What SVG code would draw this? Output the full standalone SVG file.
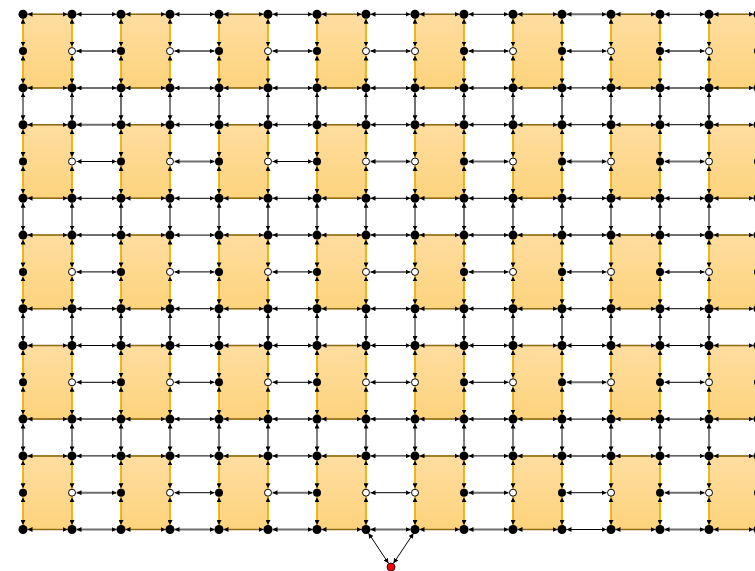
<svg xmlns="http://www.w3.org/2000/svg" width="755" height="571" viewBox="0 0 755 571">
<defs>
<linearGradient id="gr" x1="0" y1="0" x2="0" y2="1"><stop offset="0" stop-color="#fede a0"/><stop offset="0" stop-color="#fedda0"/><stop offset="1" stop-color="#fdd37c"/></linearGradient>
<marker id="a" viewBox="0 0 5 5" refX="5" refY="2.5" markerWidth="5" markerHeight="5" markerUnits="userSpaceOnUse" orient="auto-start-reverse"><path d="M0,0L5,2.5L0,5z" fill="#000"/></marker>
<line id="h" x1="0" y1="0" x2="40" y2="0" marker-start="url(#a)" marker-end="url(#a)"/>
<line id="v" x1="0" y1="0" x2="0" y2="27.8" marker-start="url(#a)" marker-end="url(#a)"/>
</defs>
<style>
.blk rect{fill:url(#gr);stroke:#c99a1c;stroke-width:1}
.k{stroke:#000;stroke-width:1}
.g{stroke:#707070;stroke-width:2}
.o{stroke:#f2b100;stroke-width:1.5}
.d{stroke:#8b6b14;stroke-width:1.5}
.nodes circle{fill:#000}
.nodes circle.w{fill:#fff;stroke:#000;stroke-width:1}
.nodes circle.red{fill:#f00;stroke:#000;stroke-width:0.8}
</style>
<g class="blk" id="blocks">
<g transform="translate(0,14.3)"><rect id="b0-0" x="23" width="49" height="73.6"/><rect id="b0-1" x="121" width="49" height="73.6"/><rect id="b0-2" x="219" width="49" height="73.6"/><rect id="b0-3" x="317" width="49" height="73.6"/><rect id="b0-4" x="415" width="49" height="73.6"/><rect id="b0-5" x="513" width="49" height="73.6"/><rect id="b0-6" x="611" width="49" height="73.6"/><rect id="b0-7" x="709" width="49" height="73.6"/></g>
<g transform="translate(0,124.7)"><rect id="b1-0" x="23" width="49" height="73.6"/><rect id="b1-1" x="121" width="49" height="73.6"/><rect id="b1-2" x="219" width="49" height="73.6"/><rect id="b1-3" x="317" width="49" height="73.6"/><rect id="b1-4" x="415" width="49" height="73.6"/><rect id="b1-5" x="513" width="49" height="73.6"/><rect id="b1-6" x="611" width="49" height="73.6"/><rect id="b1-7" x="709" width="49" height="73.6"/></g>
<g transform="translate(0,235.1)"><rect id="b2-0" x="23" width="49" height="73.6"/><rect id="b2-1" x="121" width="49" height="73.6"/><rect id="b2-2" x="219" width="49" height="73.6"/><rect id="b2-3" x="317" width="49" height="73.6"/><rect id="b2-4" x="415" width="49" height="73.6"/><rect id="b2-5" x="513" width="49" height="73.6"/><rect id="b2-6" x="611" width="49" height="73.6"/><rect id="b2-7" x="709" width="49" height="73.6"/></g>
<g transform="translate(0,345.5)"><rect id="b3-0" x="23" width="49" height="73.6"/><rect id="b3-1" x="121" width="49" height="73.6"/><rect id="b3-2" x="219" width="49" height="73.6"/><rect id="b3-3" x="317" width="49" height="73.6"/><rect id="b3-4" x="415" width="49" height="73.6"/><rect id="b3-5" x="513" width="49" height="73.6"/><rect id="b3-6" x="611" width="49" height="73.6"/><rect id="b3-7" x="709" width="49" height="73.6"/></g>
<g transform="translate(0,455.9)"><rect id="b4-0" x="23" width="49" height="73.6"/><rect id="b4-1" x="121" width="49" height="73.6"/><rect id="b4-2" x="219" width="49" height="73.6"/><rect id="b4-3" x="317" width="49" height="73.6"/><rect id="b4-4" x="415" width="49" height="73.6"/><rect id="b4-5" x="513" width="49" height="73.6"/><rect id="b4-6" x="611" width="49" height="73.6"/><rect id="b4-7" x="709" width="49" height="73.6"/></g>
</g>
<g id="connectors">
<g class="o" transform="translate(0,18.8)"><use href="#v" x="23"/><use href="#v" x="72"/><use href="#v" x="121"/><use href="#v" x="170"/><use href="#v" x="219"/><use href="#v" x="268"/><use href="#v" x="317"/><use href="#v" x="366"/><use href="#v" x="415"/><use href="#v" x="464"/><use href="#v" x="513"/><use href="#v" x="562"/><use href="#v" x="611"/><use href="#v" x="660"/><use href="#v" x="709"/><use href="#v" x="758"/></g>
<g class="o" transform="translate(0,55.6)"><use href="#v" x="23"/><use href="#v" x="72"/><use href="#v" x="121"/><use href="#v" x="170"/><use href="#v" x="219"/><use href="#v" x="268"/><use href="#v" x="317"/><use href="#v" x="366"/><use href="#v" x="415"/><use href="#v" x="464"/><use href="#v" x="513"/><use href="#v" x="562"/><use href="#v" x="611"/><use href="#v" x="660"/><use href="#v" x="709"/><use href="#v" x="758"/></g>
<g class="k" transform="translate(0,92.4)"><use href="#v" x="23"/><use href="#v" x="72"/><use href="#v" x="121" class="g"/><use href="#v" x="170"/><use href="#v" x="219"/><use href="#v" x="268"/><use href="#v" x="317" class="g"/><use href="#v" x="366"/><use href="#v" x="415" class="g"/><use href="#v" x="464"/><use href="#v" x="513"/><use href="#v" x="562"/><use href="#v" x="611"/><use href="#v" x="660"/><use href="#v" x="709" class="g"/><use href="#v" x="758"/></g>
<g class="o" transform="translate(0,129.2)"><use href="#v" x="23"/><use href="#v" x="72"/><use href="#v" x="121"/><use href="#v" x="170"/><use href="#v" x="219"/><use href="#v" x="268"/><use href="#v" x="317"/><use href="#v" x="366"/><use href="#v" x="415"/><use href="#v" x="464"/><use href="#v" x="513"/><use href="#v" x="562"/><use href="#v" x="611"/><use href="#v" x="660"/><use href="#v" x="709"/><use href="#v" x="758"/></g>
<g class="o" transform="translate(0,166)"><use href="#v" x="23"/><use href="#v" x="72"/><use href="#v" x="121"/><use href="#v" x="170"/><use href="#v" x="219"/><use href="#v" x="268"/><use href="#v" x="317"/><use href="#v" x="366"/><use href="#v" x="415"/><use href="#v" x="464"/><use href="#v" x="513"/><use href="#v" x="562"/><use href="#v" x="611"/><use href="#v" x="660"/><use href="#v" x="709"/><use href="#v" x="758"/></g>
<g class="k" transform="translate(0,202.8)"><use href="#v" x="23"/><use href="#v" x="72"/><use href="#v" x="121" class="g"/><use href="#v" x="170"/><use href="#v" x="219"/><use href="#v" x="268" class="g"/><use href="#v" x="317"/><use href="#v" x="366"/><use href="#v" x="415"/><use href="#v" x="464" class="g"/><use href="#v" x="513"/><use href="#v" x="562"/><use href="#v" x="611"/><use href="#v" x="660"/><use href="#v" x="709"/><use href="#v" x="758"/></g>
<g class="o" transform="translate(0,239.6)"><use href="#v" x="23"/><use href="#v" x="72"/><use href="#v" x="121"/><use href="#v" x="170"/><use href="#v" x="219"/><use href="#v" x="268"/><use href="#v" x="317"/><use href="#v" x="366"/><use href="#v" x="415"/><use href="#v" x="464"/><use href="#v" x="513"/><use href="#v" x="562"/><use href="#v" x="611"/><use href="#v" x="660"/><use href="#v" x="709"/><use href="#v" x="758"/></g>
<g class="o" transform="translate(0,276.4)"><use href="#v" x="23"/><use href="#v" x="72"/><use href="#v" x="121"/><use href="#v" x="170"/><use href="#v" x="219"/><use href="#v" x="268"/><use href="#v" x="317"/><use href="#v" x="366"/><use href="#v" x="415"/><use href="#v" x="464"/><use href="#v" x="513"/><use href="#v" x="562"/><use href="#v" x="611"/><use href="#v" x="660"/><use href="#v" x="709"/><use href="#v" x="758"/></g>
<g class="k" transform="translate(0,313.2)"><use href="#v" x="23"/><use href="#v" x="72"/><use href="#v" x="121" class="g"/><use href="#v" x="170"/><use href="#v" x="219"/><use href="#v" x="268" class="g"/><use href="#v" x="317"/><use href="#v" x="366"/><use href="#v" x="415"/><use href="#v" x="464"/><use href="#v" x="513"/><use href="#v" x="562"/><use href="#v" x="611"/><use href="#v" x="660"/><use href="#v" x="709"/><use href="#v" x="758"/></g>
<g class="o" transform="translate(0,350)"><use href="#v" x="23"/><use href="#v" x="72"/><use href="#v" x="121"/><use href="#v" x="170"/><use href="#v" x="219"/><use href="#v" x="268"/><use href="#v" x="317"/><use href="#v" x="366"/><use href="#v" x="415"/><use href="#v" x="464"/><use href="#v" x="513"/><use href="#v" x="562"/><use href="#v" x="611"/><use href="#v" x="660"/><use href="#v" x="709"/><use href="#v" x="758"/></g>
<g class="o" transform="translate(0,386.8)"><use href="#v" x="23"/><use href="#v" x="72"/><use href="#v" x="121"/><use href="#v" x="170"/><use href="#v" x="219"/><use href="#v" x="268"/><use href="#v" x="317"/><use href="#v" x="366"/><use href="#v" x="415"/><use href="#v" x="464"/><use href="#v" x="513"/><use href="#v" x="562"/><use href="#v" x="611"/><use href="#v" x="660"/><use href="#v" x="709"/><use href="#v" x="758"/></g>
<g class="k" transform="translate(0,423.6)"><use href="#v" x="23"/><use href="#v" x="72"/><use href="#v" x="121"/><use href="#v" x="170"/><use href="#v" x="219"/><use href="#v" x="268"/><use href="#v" x="317"/><use href="#v" x="366"/><use href="#v" x="415"/><use href="#v" x="464"/><use href="#v" x="513"/><use href="#v" x="562"/><use href="#v" x="611"/><use href="#v" x="660"/><use href="#v" x="709"/><use href="#v" x="758"/></g>
<g class="o" transform="translate(0,460.4)"><use href="#v" x="23"/><use href="#v" x="72"/><use href="#v" x="121"/><use href="#v" x="170"/><use href="#v" x="219"/><use href="#v" x="268"/><use href="#v" x="317"/><use href="#v" x="366"/><use href="#v" x="415"/><use href="#v" x="464"/><use href="#v" x="513"/><use href="#v" x="562"/><use href="#v" x="611"/><use href="#v" x="660"/><use href="#v" x="709"/><use href="#v" x="758"/></g>
<g class="o" transform="translate(0,497.2)"><use href="#v" x="23"/><use href="#v" x="72"/><use href="#v" x="121"/><use href="#v" x="170"/><use href="#v" x="219"/><use href="#v" x="268"/><use href="#v" x="317"/><use href="#v" x="366"/><use href="#v" x="415"/><use href="#v" x="464"/><use href="#v" x="513"/><use href="#v" x="562"/><use href="#v" x="611"/><use href="#v" x="660"/><use href="#v" x="709"/><use href="#v" x="758"/></g>

<g class="d" transform="translate(0,14.3)"><use href="#h" x="27.5"/><use href="#h" x="76.5" class="k"/><use href="#h" x="125.5"/><use href="#h" x="174.5" class="k"/><use href="#h" x="223.5"/><use href="#h" x="272.5" class="k"/><use href="#h" x="321.5"/><use href="#h" x="370.5" class="k"/><use href="#h" x="419.5"/><use href="#h" x="468.5" class="k"/><use href="#h" x="517.5"/><use href="#h" x="566.5" class="g"/><use href="#h" x="615.5"/><use href="#h" x="664.5" class="k"/><use href="#h" x="713.5"/></g>
<g transform="translate(0,51.1)"><use href="#h" x="76.5" class="g"/><use href="#h" x="174.5" class="g"/><use href="#h" x="272.5" class="g"/><use href="#h" x="370.5" class="g"/><use href="#h" x="468.5" class="g"/><use href="#h" x="566.5" class="k"/><use href="#h" x="664.5" class="g"/></g>
<g class="d" transform="translate(0,87.9)"><use href="#h" x="27.5"/><use href="#h" x="76.5" class="g"/><use href="#h" x="125.5"/><use href="#h" x="174.5" class="g"/><use href="#h" x="223.5"/><use href="#h" x="272.5" class="g"/><use href="#h" x="321.5"/><use href="#h" x="370.5" class="g"/><use href="#h" x="419.5"/><use href="#h" x="468.5" class="g"/><use href="#h" x="517.5"/><use href="#h" x="566.5" class="k"/><use href="#h" x="615.5"/><use href="#h" x="664.5" class="g"/><use href="#h" x="713.5"/></g>
<g class="d" transform="translate(0,124.7)"><use href="#h" x="27.5"/><use href="#h" x="76.5" class="g"/><use href="#h" x="125.5"/><use href="#h" x="174.5" class="k"/><use href="#h" x="223.5"/><use href="#h" x="272.5" class="k"/><use href="#h" x="321.5"/><use href="#h" x="370.5" class="k"/><use href="#h" x="419.5"/><use href="#h" x="468.5" class="k"/><use href="#h" x="517.5"/><use href="#h" x="566.5" class="k"/><use href="#h" x="615.5"/><use href="#h" x="664.5" class="k"/><use href="#h" x="713.5"/></g>
<g transform="translate(0,161.5)"><use href="#h" x="76.5" class="k"/><use href="#h" x="174.5" class="g"/><use href="#h" x="272.5" class="k"/><use href="#h" x="370.5" class="g"/><use href="#h" x="468.5" class="g"/><use href="#h" x="566.5" class="g"/><use href="#h" x="664.5" class="g"/></g>
<g class="d" transform="translate(0,198.3)"><use href="#h" x="27.5"/><use href="#h" x="76.5" class="k"/><use href="#h" x="125.5"/><use href="#h" x="174.5" class="k"/><use href="#h" x="223.5"/><use href="#h" x="272.5" class="k"/><use href="#h" x="321.5"/><use href="#h" x="370.5" class="k"/><use href="#h" x="419.5"/><use href="#h" x="468.5" class="k"/><use href="#h" x="517.5"/><use href="#h" x="566.5" class="k"/><use href="#h" x="615.5"/><use href="#h" x="664.5" class="k"/><use href="#h" x="713.5"/></g>
<g class="d" transform="translate(0,235.1)"><use href="#h" x="27.5"/><use href="#h" x="76.5" class="g"/><use href="#h" x="125.5"/><use href="#h" x="174.5" class="k"/><use href="#h" x="223.5"/><use href="#h" x="272.5" class="g"/><use href="#h" x="321.5"/><use href="#h" x="370.5" class="g"/><use href="#h" x="419.5"/><use href="#h" x="468.5" class="g"/><use href="#h" x="517.5"/><use href="#h" x="566.5" class="g"/><use href="#h" x="615.5"/><use href="#h" x="664.5" class="g"/><use href="#h" x="713.5"/></g>
<g transform="translate(0,271.9)"><use href="#h" x="76.5" class="k"/><use href="#h" x="174.5" class="k"/><use href="#h" x="272.5" class="k"/><use href="#h" x="370.5" class="g"/><use href="#h" x="468.5" class="k"/><use href="#h" x="566.5" class="k"/><use href="#h" x="664.5" class="g"/></g>
<g class="d" transform="translate(0,308.7)"><use href="#h" x="27.5"/><use href="#h" x="76.5" class="k"/><use href="#h" x="125.5"/><use href="#h" x="174.5" class="k"/><use href="#h" x="223.5"/><use href="#h" x="272.5" class="k"/><use href="#h" x="321.5"/><use href="#h" x="370.5" class="k"/><use href="#h" x="419.5"/><use href="#h" x="468.5" class="k"/><use href="#h" x="517.5"/><use href="#h" x="566.5" class="k"/><use href="#h" x="615.5"/><use href="#h" x="664.5" class="k"/><use href="#h" x="713.5"/></g>
<g class="d" transform="translate(0,345.5)"><use href="#h" x="27.5"/><use href="#h" x="76.5" class="k"/><use href="#h" x="125.5"/><use href="#h" x="174.5" class="k"/><use href="#h" x="223.5"/><use href="#h" x="272.5" class="k"/><use href="#h" x="321.5"/><use href="#h" x="370.5" class="k"/><use href="#h" x="419.5"/><use href="#h" x="468.5" class="k"/><use href="#h" x="517.5"/><use href="#h" x="566.5" class="k"/><use href="#h" x="615.5"/><use href="#h" x="664.5" class="k"/><use href="#h" x="713.5"/></g>
<g transform="translate(0,382.3)"><use href="#h" x="76.5" class="k"/><use href="#h" x="174.5" class="k"/><use href="#h" x="272.5" class="k"/><use href="#h" x="370.5" class="k"/><use href="#h" x="468.5" class="k"/><use href="#h" x="566.5" class="g"/><use href="#h" x="664.5" class="k"/></g>
<g class="d" transform="translate(0,419.1)"><use href="#h" x="27.5"/><use href="#h" x="76.5" class="g"/><use href="#h" x="125.5"/><use href="#h" x="174.5" class="g"/><use href="#h" x="223.5"/><use href="#h" x="272.5" class="g"/><use href="#h" x="321.5"/><use href="#h" x="370.5" class="g"/><use href="#h" x="419.5"/><use href="#h" x="468.5" class="g"/><use href="#h" x="517.5"/><use href="#h" x="566.5" class="k"/><use href="#h" x="615.5"/><use href="#h" x="664.5" class="k"/><use href="#h" x="713.5"/></g>
<g class="d" transform="translate(0,455.9)"><use href="#h" x="27.5"/><use href="#h" x="76.5" class="k"/><use href="#h" x="125.5"/><use href="#h" x="174.5" class="k"/><use href="#h" x="223.5"/><use href="#h" x="272.5" class="k"/><use href="#h" x="321.5"/><use href="#h" x="370.5" class="k"/><use href="#h" x="419.5"/><use href="#h" x="468.5" class="k"/><use href="#h" x="517.5"/><use href="#h" x="566.5" class="g"/><use href="#h" x="615.5"/><use href="#h" x="664.5" class="k"/><use href="#h" x="713.5"/></g>
<g transform="translate(0,492.7)"><use href="#h" x="76.5" class="g"/><use href="#h" x="174.5" class="k"/><use href="#h" x="272.5" class="g"/><use href="#h" x="370.5" class="k"/><use href="#h" x="468.5" class="g"/><use href="#h" x="566.5" class="k"/><use href="#h" x="664.5" class="g"/></g>
<g class="d" transform="translate(0,529.5)"><use href="#h" x="27.5"/><use href="#h" x="76.5" class="g"/><use href="#h" x="125.5"/><use href="#h" x="174.5" class="g"/><use href="#h" x="223.5"/><use href="#h" x="272.5" class="g"/><use href="#h" x="321.5"/><use href="#h" x="370.5" class="g"/><use href="#h" x="419.5"/><use href="#h" x="468.5" class="g"/><use href="#h" x="517.5"/><use href="#h" x="566.5" class="k"/><use href="#h" x="615.5"/><use href="#h" x="664.5" class="g"/><use href="#h" x="713.5"/></g>
<line class="k" x1="388.5" y1="563.3" x2="368.5" y2="533.2" marker-start="url(#a)" marker-end="url(#a)"/>
<line class="k" x1="393.5" y1="563.3" x2="413.5" y2="533.2" marker-start="url(#a)" marker-end="url(#a)"/>
</g>
<g class="nodes" id="nodes">
<g transform="translate(0,14.3)"><g id="n0-0"><circle cx="23" r="4.5"/></g><g id="n0-1"><circle cx="72" r="4.5"/></g><g id="n0-2"><circle cx="121" r="4.5"/></g><g id="n0-3"><circle cx="170" r="4.5"/></g><g id="n0-4"><circle cx="219" r="4.5"/></g><g id="n0-5"><circle cx="268" r="4.5"/></g><g id="n0-6"><circle cx="317" r="4.5"/></g><g id="n0-7"><circle cx="366" r="4.5"/></g><g id="n0-8"><circle cx="415" r="4.5"/></g><g id="n0-9"><circle cx="464" r="4.5"/></g><g id="n0-10"><circle cx="513" r="4.5"/></g><g id="n0-11"><circle cx="562" r="4.5"/></g><g id="n0-12"><circle cx="611" r="4.5"/></g><g id="n0-13"><circle cx="660" r="4.5"/></g><g id="n0-14"><circle cx="709" r="4.5"/></g><g id="n0-15"><circle cx="758" r="4.5"/></g></g>
<g transform="translate(0,51.1)"><g id="n1-0"><circle cx="23" r="4"/></g><g id="n1-1"><circle class="w" cx="72" r="3.5"/></g><g id="n1-2"><circle cx="121" r="4"/></g><g id="n1-3"><circle class="w" cx="170" r="3.5"/></g><g id="n1-4"><circle cx="219" r="4"/></g><g id="n1-5"><circle class="w" cx="268" r="3.5"/></g><g id="n1-6"><circle cx="317" r="4"/></g><g id="n1-7"><circle class="w" cx="366" r="3.5"/></g><g id="n1-8"><circle class="w" cx="415" r="3.5"/></g><g id="n1-9"><circle cx="464" r="4"/></g><g id="n1-10"><circle class="w" cx="513" r="3.5"/></g><g id="n1-11"><circle cx="562" r="4"/></g><g id="n1-12"><circle class="w" cx="611" r="3.5"/></g><g id="n1-13"><circle cx="660" r="4"/></g><g id="n1-14"><circle class="w" cx="709" r="3.5"/></g><g id="n1-15"><circle cx="758" r="4"/></g></g>
<g transform="translate(0,87.9)"><g id="n2-0"><circle cx="23" r="4.5"/></g><g id="n2-1"><circle cx="72" r="4.5"/></g><g id="n2-2"><circle cx="121" r="4.5"/></g><g id="n2-3"><circle cx="170" r="4.5"/></g><g id="n2-4"><circle cx="219" r="4.5"/></g><g id="n2-5"><circle cx="268" r="4.5"/></g><g id="n2-6"><circle cx="317" r="4.5"/></g><g id="n2-7"><circle cx="366" r="4.5"/></g><g id="n2-8"><circle cx="415" r="4.5"/></g><g id="n2-9"><circle cx="464" r="4.5"/></g><g id="n2-10"><circle cx="513" r="4.5"/></g><g id="n2-11"><circle cx="562" r="4.5"/></g><g id="n2-12"><circle cx="611" r="4.5"/></g><g id="n2-13"><circle cx="660" r="4.5"/></g><g id="n2-14"><circle cx="709" r="4.5"/></g><g id="n2-15"><circle cx="758" r="4.5"/></g></g>
<g transform="translate(0,124.7)"><g id="n3-0"><circle cx="23" r="4.5"/></g><g id="n3-1"><circle cx="72" r="4.5"/></g><g id="n3-2"><circle cx="121" r="4.5"/></g><g id="n3-3"><circle cx="170" r="4.5"/></g><g id="n3-4"><circle cx="219" r="4.5"/></g><g id="n3-5"><circle cx="268" r="4.5"/></g><g id="n3-6"><circle cx="317" r="4.5"/></g><g id="n3-7"><circle cx="366" r="4.5"/></g><g id="n3-8"><circle cx="415" r="4.5"/></g><g id="n3-9"><circle cx="464" r="4.5"/></g><g id="n3-10"><circle cx="513" r="4.5"/></g><g id="n3-11"><circle cx="562" r="4.5"/></g><g id="n3-12"><circle cx="611" r="4.5"/></g><g id="n3-13"><circle cx="660" r="4.5"/></g><g id="n3-14"><circle cx="709" r="4.5"/></g><g id="n3-15"><circle cx="758" r="4.5"/></g></g>
<g transform="translate(0,161.5)"><g id="n4-0"><circle cx="23" r="4"/></g><g id="n4-1"><circle class="w" cx="72" r="3.5"/></g><g id="n4-2"><circle cx="121" r="4"/></g><g id="n4-3"><circle class="w" cx="170" r="3.5"/></g><g id="n4-4"><circle cx="219" r="4"/></g><g id="n4-5"><circle class="w" cx="268" r="3.5"/></g><g id="n4-6"><circle cx="317" r="4"/></g><g id="n4-7"><circle class="w" cx="366" r="3.5"/></g><g id="n4-8"><circle class="w" cx="415" r="3.5"/></g><g id="n4-9"><circle cx="464" r="4"/></g><g id="n4-10"><circle class="w" cx="513" r="3.5"/></g><g id="n4-11"><circle cx="562" r="4"/></g><g id="n4-12"><circle class="w" cx="611" r="3.5"/></g><g id="n4-13"><circle cx="660" r="4"/></g><g id="n4-14"><circle class="w" cx="709" r="3.5"/></g><g id="n4-15"><circle cx="758" r="4"/></g></g>
<g transform="translate(0,198.3)"><g id="n5-0"><circle cx="23" r="4.5"/></g><g id="n5-1"><circle cx="72" r="4.5"/></g><g id="n5-2"><circle cx="121" r="4.5"/></g><g id="n5-3"><circle cx="170" r="4.5"/></g><g id="n5-4"><circle cx="219" r="4.5"/></g><g id="n5-5"><circle cx="268" r="4.5"/></g><g id="n5-6"><circle cx="317" r="4.5"/></g><g id="n5-7"><circle cx="366" r="4.5"/></g><g id="n5-8"><circle cx="415" r="4.5"/></g><g id="n5-9"><circle cx="464" r="4.5"/></g><g id="n5-10"><circle cx="513" r="4.5"/></g><g id="n5-11"><circle cx="562" r="4.5"/></g><g id="n5-12"><circle cx="611" r="4.5"/></g><g id="n5-13"><circle cx="660" r="4.5"/></g><g id="n5-14"><circle cx="709" r="4.5"/></g><g id="n5-15"><circle cx="758" r="4.5"/></g></g>
<g transform="translate(0,235.1)"><g id="n6-0"><circle cx="23" r="4.5"/></g><g id="n6-1"><circle cx="72" r="4.5"/></g><g id="n6-2"><circle cx="121" r="4.5"/></g><g id="n6-3"><circle cx="170" r="4.5"/></g><g id="n6-4"><circle cx="219" r="4.5"/></g><g id="n6-5"><circle cx="268" r="4.5"/></g><g id="n6-6"><circle cx="317" r="4.5"/></g><g id="n6-7"><circle cx="366" r="4.5"/></g><g id="n6-8"><circle cx="415" r="4.5"/></g><g id="n6-9"><circle cx="464" r="4.5"/></g><g id="n6-10"><circle cx="513" r="4.5"/></g><g id="n6-11"><circle cx="562" r="4.5"/></g><g id="n6-12"><circle cx="611" r="4.5"/></g><g id="n6-13"><circle cx="660" r="4.5"/></g><g id="n6-14"><circle cx="709" r="4.5"/></g><g id="n6-15"><circle cx="758" r="4.5"/></g></g>
<g transform="translate(0,271.9)"><g id="n7-0"><circle cx="23" r="4"/></g><g id="n7-1"><circle class="w" cx="72" r="3.5"/></g><g id="n7-2"><circle cx="121" r="4"/></g><g id="n7-3"><circle class="w" cx="170" r="3.5"/></g><g id="n7-4"><circle cx="219" r="4"/></g><g id="n7-5"><circle class="w" cx="268" r="3.5"/></g><g id="n7-6"><circle cx="317" r="4"/></g><g id="n7-7"><circle class="w" cx="366" r="3.5"/></g><g id="n7-8"><circle class="w" cx="415" r="3.5"/></g><g id="n7-9"><circle cx="464" r="4"/></g><g id="n7-10"><circle class="w" cx="513" r="3.5"/></g><g id="n7-11"><circle cx="562" r="4"/></g><g id="n7-12"><circle class="w" cx="611" r="3.5"/></g><g id="n7-13"><circle cx="660" r="4"/></g><g id="n7-14"><circle class="w" cx="709" r="3.5"/></g><g id="n7-15"><circle cx="758" r="4"/></g></g>
<g transform="translate(0,308.7)"><g id="n8-0"><circle cx="23" r="4.5"/></g><g id="n8-1"><circle cx="72" r="4.5"/></g><g id="n8-2"><circle cx="121" r="4.5"/></g><g id="n8-3"><circle cx="170" r="4.5"/></g><g id="n8-4"><circle cx="219" r="4.5"/></g><g id="n8-5"><circle cx="268" r="4.5"/></g><g id="n8-6"><circle cx="317" r="4.5"/></g><g id="n8-7"><circle cx="366" r="4.5"/></g><g id="n8-8"><circle cx="415" r="4.5"/></g><g id="n8-9"><circle cx="464" r="4.5"/></g><g id="n8-10"><circle cx="513" r="4.5"/></g><g id="n8-11"><circle cx="562" r="4.5"/></g><g id="n8-12"><circle cx="611" r="4.5"/></g><g id="n8-13"><circle cx="660" r="4.5"/></g><g id="n8-14"><circle cx="709" r="4.5"/></g><g id="n8-15"><circle cx="758" r="4.5"/></g></g>
<g transform="translate(0,345.5)"><g id="n9-0"><circle cx="23" r="4.5"/></g><g id="n9-1"><circle cx="72" r="4.5"/></g><g id="n9-2"><circle cx="121" r="4.5"/></g><g id="n9-3"><circle cx="170" r="4.5"/></g><g id="n9-4"><circle cx="219" r="4.5"/></g><g id="n9-5"><circle cx="268" r="4.5"/></g><g id="n9-6"><circle cx="317" r="4.5"/></g><g id="n9-7"><circle cx="366" r="4.5"/></g><g id="n9-8"><circle cx="415" r="4.5"/></g><g id="n9-9"><circle cx="464" r="4.5"/></g><g id="n9-10"><circle cx="513" r="4.5"/></g><g id="n9-11"><circle cx="562" r="4.5"/></g><g id="n9-12"><circle cx="611" r="4.5"/></g><g id="n9-13"><circle cx="660" r="4.5"/></g><g id="n9-14"><circle cx="709" r="4.5"/></g><g id="n9-15"><circle cx="758" r="4.5"/></g></g>
<g transform="translate(0,382.3)"><g id="n10-0"><circle cx="23" r="4"/></g><g id="n10-1"><circle class="w" cx="72" r="3.5"/></g><g id="n10-2"><circle cx="121" r="4"/></g><g id="n10-3"><circle class="w" cx="170" r="3.5"/></g><g id="n10-4"><circle cx="219" r="4"/></g><g id="n10-5"><circle class="w" cx="268" r="3.5"/></g><g id="n10-6"><circle cx="317" r="4"/></g><g id="n10-7"><circle class="w" cx="366" r="3.5"/></g><g id="n10-8"><circle class="w" cx="415" r="3.5"/></g><g id="n10-9"><circle cx="464" r="4"/></g><g id="n10-10"><circle class="w" cx="513" r="3.5"/></g><g id="n10-11"><circle cx="562" r="4"/></g><g id="n10-12"><circle class="w" cx="611" r="3.5"/></g><g id="n10-13"><circle cx="660" r="4"/></g><g id="n10-14"><circle class="w" cx="709" r="3.5"/></g><g id="n10-15"><circle cx="758" r="4"/></g></g>
<g transform="translate(0,419.1)"><g id="n11-0"><circle cx="23" r="4.5"/></g><g id="n11-1"><circle cx="72" r="4.5"/></g><g id="n11-2"><circle cx="121" r="4.5"/></g><g id="n11-3"><circle cx="170" r="4.5"/></g><g id="n11-4"><circle cx="219" r="4.5"/></g><g id="n11-5"><circle cx="268" r="4.5"/></g><g id="n11-6"><circle cx="317" r="4.5"/></g><g id="n11-7"><circle cx="366" r="4.5"/></g><g id="n11-8"><circle cx="415" r="4.5"/></g><g id="n11-9"><circle cx="464" r="4.5"/></g><g id="n11-10"><circle cx="513" r="4.5"/></g><g id="n11-11"><circle cx="562" r="4.5"/></g><g id="n11-12"><circle cx="611" r="4.5"/></g><g id="n11-13"><circle cx="660" r="4.5"/></g><g id="n11-14"><circle cx="709" r="4.5"/></g><g id="n11-15"><circle cx="758" r="4.5"/></g></g>
<g transform="translate(0,455.9)"><g id="n12-0"><circle cx="23" r="4.5"/></g><g id="n12-1"><circle cx="72" r="4.5"/></g><g id="n12-2"><circle cx="121" r="4.5"/></g><g id="n12-3"><circle cx="170" r="4.5"/></g><g id="n12-4"><circle cx="219" r="4.5"/></g><g id="n12-5"><circle cx="268" r="4.5"/></g><g id="n12-6"><circle cx="317" r="4.5"/></g><g id="n12-7"><circle cx="366" r="4.5"/></g><g id="n12-8"><circle cx="415" r="4.5"/></g><g id="n12-9"><circle cx="464" r="4.5"/></g><g id="n12-10"><circle cx="513" r="4.5"/></g><g id="n12-11"><circle cx="562" r="4.5"/></g><g id="n12-12"><circle cx="611" r="4.5"/></g><g id="n12-13"><circle cx="660" r="4.5"/></g><g id="n12-14"><circle cx="709" r="4.5"/></g><g id="n12-15"><circle cx="758" r="4.5"/></g></g>
<g transform="translate(0,492.7)"><g id="n13-0"><circle cx="23" r="4"/></g><g id="n13-1"><circle class="w" cx="72" r="3.5"/></g><g id="n13-2"><circle cx="121" r="4"/></g><g id="n13-3"><circle class="w" cx="170" r="3.5"/></g><g id="n13-4"><circle cx="219" r="4"/></g><g id="n13-5"><circle class="w" cx="268" r="3.5"/></g><g id="n13-6"><circle cx="317" r="4"/></g><g id="n13-7"><circle class="w" cx="366" r="3.5"/></g><g id="n13-8"><circle class="w" cx="415" r="3.5"/></g><g id="n13-9"><circle cx="464" r="4"/></g><g id="n13-10"><circle class="w" cx="513" r="3.5"/></g><g id="n13-11"><circle cx="562" r="4"/></g><g id="n13-12"><circle class="w" cx="611" r="3.5"/></g><g id="n13-13"><circle cx="660" r="4"/></g><g id="n13-14"><circle class="w" cx="709" r="3.5"/></g><g id="n13-15"><circle cx="758" r="4"/></g></g>
<g transform="translate(0,529.5)"><g id="n14-0"><circle cx="23" r="4.5"/></g><g id="n14-1"><circle cx="72" r="4.5"/></g><g id="n14-2"><circle cx="121" r="4.5"/></g><g id="n14-3"><circle cx="170" r="4.5"/></g><g id="n14-4"><circle cx="219" r="4.5"/></g><g id="n14-5"><circle cx="268" r="4.5"/></g><g id="n14-6"><circle cx="317" r="4.5"/></g><g id="n14-7"><circle cx="366" r="4.5"/></g><g id="n14-8"><circle cx="415" r="4.5"/></g><g id="n14-9"><circle cx="464" r="4.5"/></g><g id="n14-10"><circle cx="513" r="4.5"/></g><g id="n14-11"><circle cx="562" r="4.5"/></g><g id="n14-12"><circle cx="611" r="4.5"/></g><g id="n14-13"><circle cx="660" r="4.5"/></g><g id="n14-14"><circle cx="709" r="4.5"/></g><g id="n14-15"><circle cx="758" r="4.5"/></g></g>
<g id="n-red"><circle class="red" cx="391" cy="567" r="4"/></g>
</g>
</svg>
